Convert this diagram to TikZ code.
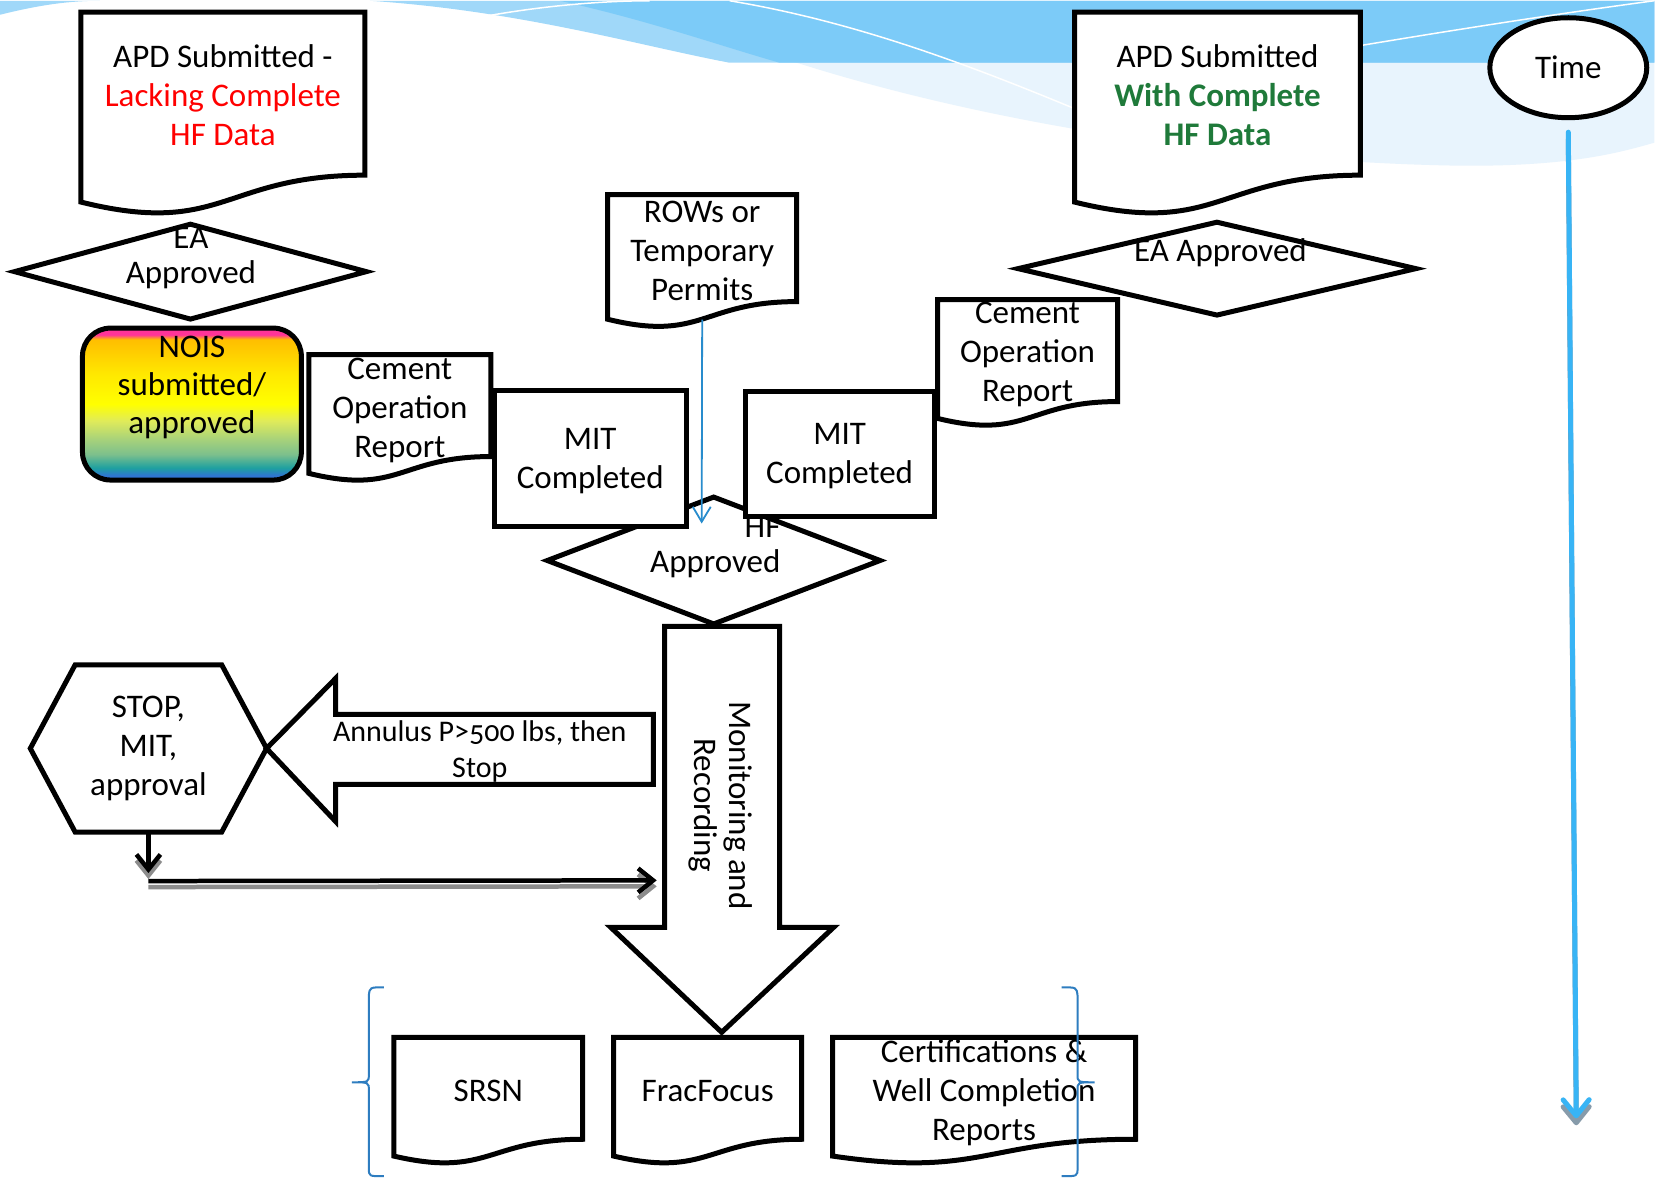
\documentclass[tikz,border=0pt]{standalone}
\usepackage{fontspec}
\setmainfont{Carlito}[Numbers=OldStyle]
\usepackage{tikz}
\usetikzlibrary{calc,shapes.geometric,arrows.meta}

\definecolor{hfgreen}{RGB}{31,122,58}
\definecolor{timeblue}{RGB}{56,180,245}
\definecolor{timeshadow}{RGB}{135,155,170}
\definecolor{bracketblue}{RGB}{46,125,192}
\definecolor{rowsblue}{RGB}{40,140,205}
\definecolor{skyA}{RGB}{232,244,253}
\definecolor{skyB}{RGB}{160,216,249}
\definecolor{skyC}{RGB}{124,203,248}
\definecolor{noisblue}{RGB}{47,117,210}
\definecolor{noisteal}{RGB}{30,160,160}
\definecolor{noisgreen}{RGB}{125,192,140}
\definecolor{noislime}{RGB}{168,210,122}
\definecolor{noispale}{RGB}{224,235,90}
\definecolor{noisyellow}{RGB}{255,255,0}
\definecolor{noisamber}{RGB}{255,232,0}
\definecolor{noisgold}{RGB}{255,200,0}
\definecolor{noisorange}{RGB}{255,190,0}
\definecolor{noispink}{RGB}{255,51,153}

\pgfdeclarelayer{back}
\pgfdeclarelayer{boxes}
\pgfsetlayers{back,boxes,main}

\pgfdeclareverticalshading{noisfill}{100bp}{color(0bp)=(noisblue); color(25bp)=(noisblue); color(26.5bp)=(noisblue); color(29bp)=(noisteal); color(33.5bp)=(noisgreen); color(38.5bp)=(noislime); color(44.5bp)=(noispale); color(50bp)=(noisyellow); color(60bp)=(noisamber); color(68.5bp)=(noisgold); color(71.3bp)=(noisorange); color(72.8bp)=(noispink); color(75bp)=(noispink); color(100bp)=(noispink)}

% document shape: name, centre, width, height (to the right end of the wave), text offset, text
\newcommand{\docshape}[6]{%
	\node[docnode,minimum width=#3,minimum height=#4] (#1) at (#2) {};
	\begin{pgfonlayer}{boxes}
		\draw[thickline,fill=white] (#1.north west) -- (#1.north east) -- (#1.south east)
			.. controls (#1.south) and ($(#1.north)!1.381!(#1.south)$) .. ($(#1.north west)!1.165!(#1.south west)$) -- cycle;
	\end{pgfonlayer}
	\node[txt] (#1txt) at ($(#1)+(0,#5)$) {#6};}
\newcommand{\topgap}[1]{\rule{0pt}{#1}}

\begin{document}
\begin{tikzpicture}[x=1pt,y=-1pt,
		thickline/.style={draw=black,line width=5pt},
		txt/.style={inner sep=0pt,align=center,font=\fontsize{33}{39}\selectfont},
		docnode/.style={inner sep=0pt,outer sep=0pt},
		boxnode/.style={txt,thickline,fill=white},
		dia/.style={diamond,thickline,fill=white,inner sep=0pt},
		flowarrow/.style={line width=4.5pt,-{Straight Barb[length=15pt,width=24pt]}},
		ghost/.style={draw=black!45,transform canvas={yshift=-6pt}},
		timearrow/.style={line width=5pt,line cap=round,-{Straight Barb[length=16pt,width=26pt,round]}},
		rowsarrow/.style={draw=rowsblue,line width=1.8pt,-{Straight Barb[length=15pt,width=18pt]}},
		bracket/.style={draw=bracketblue,line width=2pt}]
	\begin{pgfonlayer}{back}
		\fill[white] (0,0) rectangle (1655,1178);
		\fill[skyA] (640,0) .. controls (820,90) and (1150,160) .. (1460,165) .. controls (1570,166) and (1620,152) .. (1655,142) -- (1655,0) -- cycle;
		\fill[skyB] (370,0) .. controls (520,10) and (640,45) .. (730,62) -- (1655,62) -- (1655,0) -- cycle;
		\fill[skyC] (560,0) .. controls (650,20) and (720,45) .. (780,62) -- (1655,62) -- (1655,0) -- cycle;
		\fill[skyB] (0,14) .. controls (40,4) and (70,0) .. (100,0) -- (0,0) -- cycle;
		\draw[white,line width=1.5pt] (440,25) .. controls (520,6) and (600,0) .. (650,0);
		\draw[white,line width=1.5pt] (730,0) .. controls (850,20) and (960,60) .. (1080,110);
		\draw[white,line width=1.5pt] (1360,45) .. controls (1480,25) and (1580,10) .. (1655,0);
	\end{pgfonlayer}
	\useasboundingbox (0,0) rectangle (1655,1178);

	\node[draw,ellipse,line width=5pt,fill=white,inner sep=0pt,minimum width=157pt,minimum height=100pt,font=\fontsize{33}{39}\selectfont] (time) at (1569,67) {Time};
	\coordinate (timeend) at (1577,1118);
	\draw[timearrow,draw=timeshadow,transform canvas={yshift=-7pt}] ($(time.south)+(0,12)$) -- (timeend);
	\draw[timearrow,draw=timeblue] ($(time.south)+(0,12)$) -- (timeend);

	\docshape{apdl}{223,93}{284pt}{163pt}{1}{APD Submitted -\\\textcolor{red}{Lacking Complete}\\\textcolor{red}{HF Data}}
	\docshape{apdr}{1218,93}{286pt}{163pt}{1}{APD Submitted\\\textbf{\color{hfgreen}With Complete}\\\textbf{\color{hfgreen}HF Data}}

	\node[dia,minimum width=354pt,minimum height=97pt] (ea1) at (190.5,271) {};
	\node[txt,font=\fontsize{33}{35}\selectfont] (ea1txt) at (191,257) {EA\\Approved};
	\node[dia,minimum width=400pt,minimum height=95pt] (ea2) at (1217.5,268) {};
	\node[txt] (ea2txt) at (1221,252) {EA Approved};

	\node[thickline,rounded corners=28pt,shading=noisfill,minimum width=219pt,minimum height=152pt] (nois) at (192,403.5) {};
	\node[txt,font=\fontsize{33}{38}\selectfont] (noistxt) at (192,387) {NOIS\\submitted/\\approved};

	\docshape{ceml}{400,405}{182pt}{102pt}{5}{Cement\\Operation\\Report}
	\docshape{cemr}{1028,350}{180pt}{102pt}{4}{Cement\\Operation\\Report}

	\node[dia,minimum width=335pt,minimum height=129pt] (hf) at (714,560) {};
	\node[txt,align=right,anchor=east,font=\fontsize{33}{35}\selectfont] (hftxt) at (781,547) {HF\\Approved};

	\node[boxnode,minimum width=192pt,minimum height=136pt] (mitl) at (590.5,458) {\topgap{27pt}MIT\\Completed};
	\node[boxnode,minimum width=189pt,minimum height=125pt] (mitr) at (840,453) {\topgap{27pt}MIT\\Completed};

	\docshape{rows}{702.5,247.5}{189pt}{107pt}{3}{ROWs or\\Temporary\\Permits}
	\draw[rowsarrow] ($(rows.south)+(0,18)$) -- ($(hf.north)+(-12,30)$);

	\begin{pgfonlayer}{boxes}
		\draw[thickline,fill=white] (665,626) -- (780,626) -- (780,927) -- (834,927) -- (722,1032) -- (611,927) -- (665,927) -- cycle;
	\end{pgfonlayer}
	\node[txt,rotate=-90,font=\fontsize{33}{35}\selectfont] (mon) at (721,805) {Monitoring and\\Recording};

	\node[txt,minimum width=236pt,minimum height=167pt] (stop) at (148.5,748) {STOP,\\MIT,\\approval};
	\begin{pgfonlayer}{boxes}
		\draw[thickline,fill=white] (stop.west) -- ($(stop.north west)!0.19!(stop.north east)$) -- ($(stop.north west)!0.81!(stop.north east)$)
			-- (stop.east) -- ($(stop.south west)!0.81!(stop.south east)$) -- ($(stop.south west)!0.19!(stop.south east)$) -- cycle;
		\draw[thickline,fill=white] (stop.east) -- ++(69,-70) -- ++(0,36) -- ++(318,0) -- ++(0,70) -- ++(-318,0) -- ++(0,37) -- cycle;
	\end{pgfonlayer}
	\node[txt,font=\fontsize{30}{36}\selectfont] (annu) at (480,751) {Annulus P>500 lbs, then\\Stop};

	\coordinate (bend) at ($(stop.south)+(0,49)$);
	\coordinate (monin) at (657,880);
	\draw[flowarrow,ghost] (stop.south) -- ($(bend)+(0,-8)$);
	\draw[flowarrow,ghost] (bend) -- (monin);
	\draw[flowarrow] (stop.south) -- ($(bend)+(0,-8)$);
	\draw[flowarrow] (bend) -- (monin);

	\docshape{srsn}{488.5,1088}{189pt}{102pt}{3}{SRSN}
	\docshape{frac}{708,1088}{188pt}{102pt}{3}{FracFocus}
	\docshape{cert}{984.5,1088}{303pt}{102pt}{4}{Certifications \&\\Well Completion\\Reports}

	\draw[bracket] (384,987) .. controls (370,987) .. (369,995) -- (369,1074) .. controls (369,1082) .. (352,1082)
		.. controls (369,1082) .. (369,1090) -- (369,1168) .. controls (369,1176) .. (384,1176);
	\draw[bracket] (1062,987) .. controls (1077,987) .. (1078,995) -- (1078,1074) .. controls (1078,1082) .. (1095,1082)
		.. controls (1078,1082) .. (1078,1090) -- (1078,1168) .. controls (1078,1176) .. (1062,1176);
\end{tikzpicture}
\end{document}
